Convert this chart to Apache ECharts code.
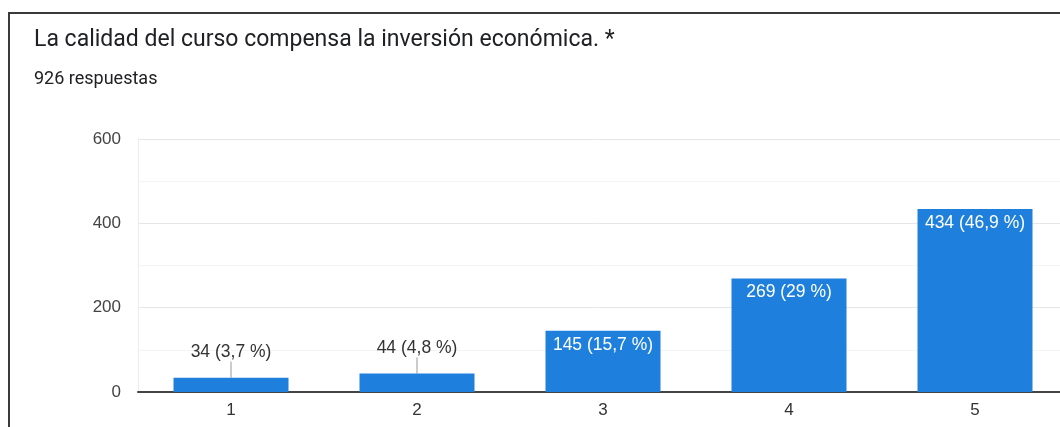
<!DOCTYPE html>
<html>
<head>
<meta charset="utf-8">
<script src="https://cdn.jsdelivr.net/npm/echarts@6/dist/echarts.min.js"></script>
<style>
html,body{margin:0;padding:0;background:#fff;}
#chart{width:1060px;height:427px;}
</style>
</head>
<body>
<div id="chart"></div>
<script>
const categories = ['1', '2', '3', '4', '5'];
const counts = [34, 44, 145, 269, 434];
const percents = ['3,7', '4,8', '15,7', '29', '46,9'];
const yTicks = [0, 200, 400, 600];
const titleText = 'La calidad del curso compensa la inversión económica. *';
const subText = '926 respuestas';
const outsideLabelIdx = [0, 1];

const chart = echarts.init(document.getElementById('chart'));
const data = counts.map((v, i) => {
  const outside = outsideLabelIdx.includes(i);
  return {
    value: v,
    label: outside
      ? { position: 'top', distance: 5, color: '#333' }
      : { position: 'insideTop', distance: 5, color: '#fff' },
    labelLine: { show: outside, lineStyle: { color: '#999', width: 1 } }
  };
});

chart.setOption({
  animation: false,
  title: [
    { text: titleText, left: 34, top: 29, padding: 0,
      textStyle: { fontFamily: 'Roboto', fontSize: 23, fontWeight: 'normal', color: '#202124' } },
    { text: subText, left: 34, top: 70, padding: 0,
      textStyle: { fontFamily: 'Roboto', fontSize: 18, fontWeight: 'normal', color: '#202124' } }
  ],
  graphic: [
    { type: 'polyline', shape: { points: [[9, 500], [9, 13], [1100, 13]] },
      style: { stroke: '#3a3a3a', lineWidth: 2, fill: null }, silent: true }
  ],
  grid: { left: 138, top: 139, width: 930, bottom: 35, containLabel: false, outerBoundsMode: 'none' },
  xAxis: {
    type: 'category',
    data: categories,
    axisLine: { show: true, lineStyle: { color: '#444', width: 2 } },
    axisTick: { show: false },
    axisLabel: { color: '#333', fontFamily: 'Liberation Sans, Arial', fontSize: 17, margin: 10 }
  },
  yAxis: {
    type: 'value',
    min: yTicks[0],
    max: yTicks[yTicks.length - 1],
    interval: yTicks[1] - yTicks[0],
    axisLine: { show: true, lineStyle: { color: '#ececec', width: 1 } },
    axisTick: { show: false },
    axisLabel: { color: '#444', fontFamily: 'Liberation Sans, Arial', fontSize: 17, margin: 17 },
    splitLine: { show: true, lineStyle: { color: '#e6e6e6', width: 1 } },
    minorTick: { show: false, splitNumber: 2 },
    minorSplitLine: { show: true, lineStyle: { color: '#f4f4f4', width: 1 } }
  },
  series: [{
    type: 'bar',
    data: data,
    barWidth: 115,
    itemStyle: { color: '#1e80dc' },
    label: {
      show: true,
      fontFamily: 'Liberation Sans, Arial',
      fontSize: 17.5,
      formatter: p => counts[p.dataIndex] + ' (' + percents[p.dataIndex] + ' %)'
    },
    labelLayout: p => outsideLabelIdx.includes(p.dataIndex) ? { dy: -11 } : {},
    labelLine: { show: false, lineStyle: { color: '#999', width: 1 } }
  }]
});
</script>
</body>
</html>
